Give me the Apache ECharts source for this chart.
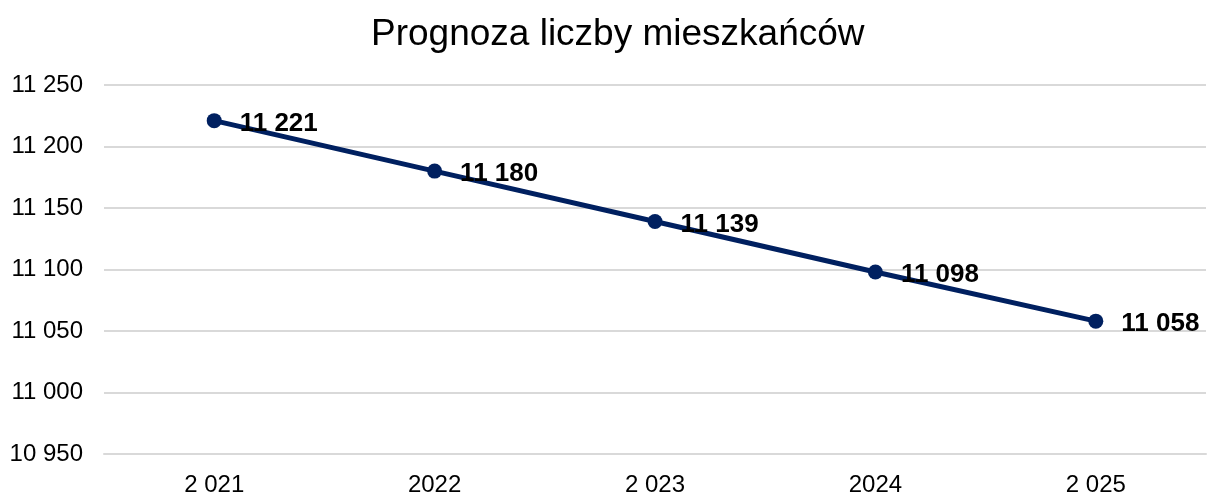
<!DOCTYPE html>
<html><head><meta charset="utf-8">
<script src="https://cdn.jsdelivr.net/npm/echarts@6/dist/echarts.min.js"></script>
<style>html,body{margin:0;padding:0;background:#fff}#c{width:1207px;height:493px}</style>
</head><body><div id="c"></div>
<script>
const categories = ["2 021", "2022", "2 023", "2024", "2 025"];
const values = [11221, 11180, 11139, 11098, 11058];
const yMin = 10950, yMax = 11250, yStep = 50;

function fmt(v){ return String(v).replace(/\B(?=(\d{3})+(?!\d))/g, ' '); }

const chart = echarts.init(document.getElementById('c'));
chart.setOption({
  animation: false,
  title: { text: 'Prognoza liczby mieszkańców', left: 366, top: 11,
    textStyle: { fontFamily: 'Liberation Sans', fontSize: 37, fontWeight: 'normal', color: '#000' } },
  grid: { left: 104, right: 1, top: 85, bottom: 39, outerBoundsMode: 'none', containLabel: false },
  xAxis: { type: 'category', data: categories, boundaryGap: true,
    axisLine: { lineStyle: { color: '#d9d9d9', width: 2 } }, axisTick: { show: false },
    axisLabel: { fontFamily: 'Liberation Sans', fontSize: 24, color: '#000', margin: 19 } },
  yAxis: { type: 'value', min: yMin, max: yMax, interval: yStep,
    axisLine: { show: false }, axisTick: { show: false },
    splitLine: { lineStyle: { color: '#d9d9d9', width: 2 } },
    axisLabel: { fontFamily: 'Liberation Sans', fontSize: 24, color: '#000', margin: 21, formatter: fmt } },
  series: [{ type: 'line', data: values, symbol: 'circle', symbolSize: 15,
    lineStyle: { color: '#002060', width: 5 }, itemStyle: { color: '#002060' },
    label: { show: true, position: 'right', distance: 18, formatter: p => fmt(p.value),
      fontFamily: 'Liberation Sans', fontSize: 26, fontWeight: 'bold', color: '#000', offset: [0, 3] } }]
});
</script></body></html>
